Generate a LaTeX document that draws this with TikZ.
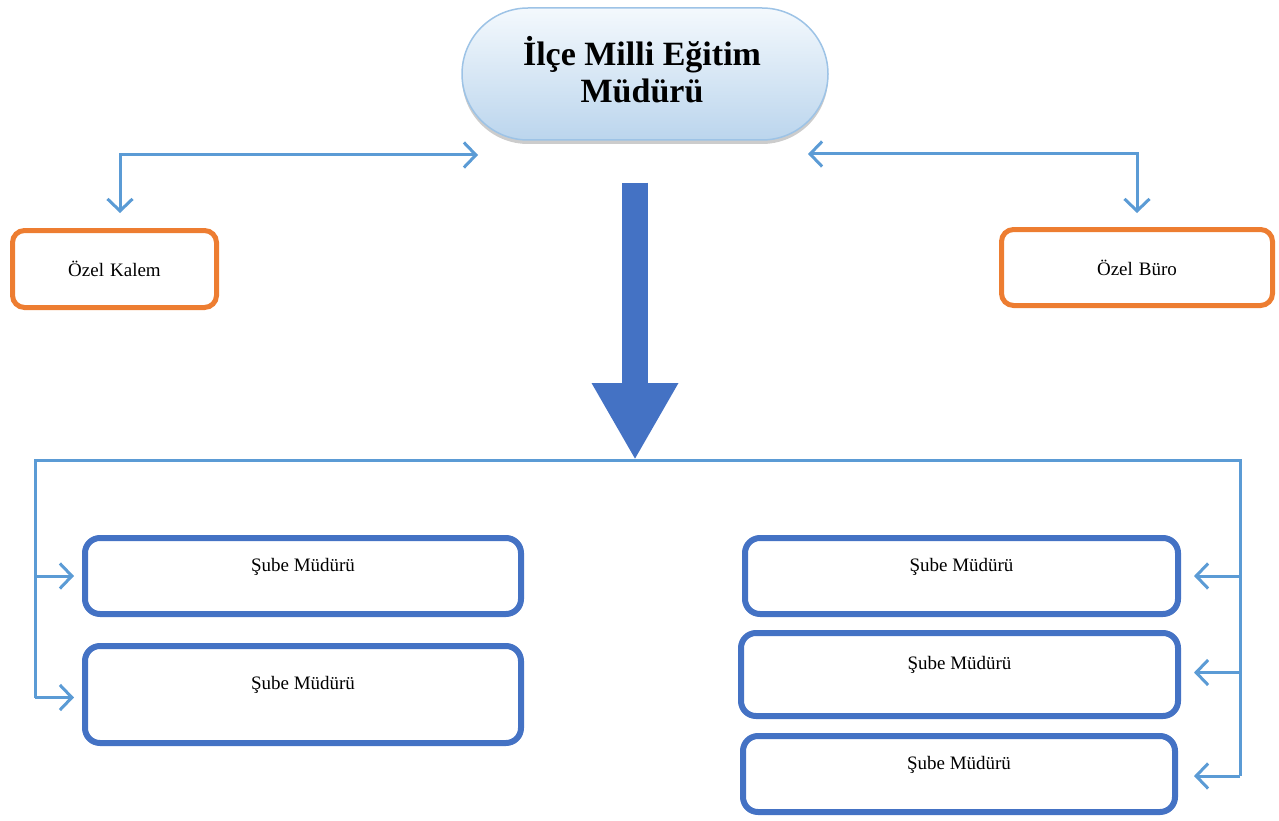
\documentclass[tikz,border=0pt]{standalone}
\usepackage{fontspec}
\setmainfont{Liberation Serif}
\usetikzlibrary{arrows.meta,shadows}
\definecolor{connblue}{HTML}{5B9BD5}
\definecolor{boxblue}{HTML}{4472C4}
\definecolor{orng}{HTML}{ED7D31}
\definecolor{pilltop}{HTML}{F4F9FD}
\definecolor{pillbot}{HTML}{BBD5ED}
\definecolor{pillline}{HTML}{9DC3E6}
\tikzset{barb/.tip={Straight Barb[length=12pt,width=25pt]}}
\begin{document}
\begin{tikzpicture}[x=1pt,y=-1pt,
  conn/.style={draw=connblue, line width=3pt},
  pillbox/.style={rectangle, rounded corners=66pt, minimum width=366pt, minimum height=132pt,
    top color=pilltop, bottom color=pillbot, draw=pillline, line width=1.5pt,
    drop shadow={shadow xshift=0pt, shadow yshift=-4pt, opacity=0.4, fill=gray},
    align=center, font=\fontsize{34}{37}\selectfont\bfseries},
  ozel/.style={rectangle, draw=orng, line width=5pt, rounded corners=12pt,
    font=\fontsize{19}{21}\selectfont},
  sube/.style={rectangle, draw=boxblue, line width=6pt, rounded corners=15pt,
    text height=12pt, text depth=22pt, font=\fontsize{19}{21}\selectfont},
  bigarrow/.style={draw=boxblue, line width=26pt, -{Triangle[length=77pt,width=81pt]}}
]
\useasboundingbox (0,0) rectangle (1279,821);

% top
\node[pillbox] (pill) at (645,74) {};
\node[align=center, font=\fontsize{34}{37}\selectfont\bfseries, inner sep=0pt] (title) at (642,70) {İlçe Milli Eğitim\\Müdürü};
\node[ozel, minimum width=204pt, minimum height=77pt] (kalem) at (114.5,269) {Özel\hspace{6pt}Kalem};
\node[ozel, minimum width=271pt, minimum height=76pt] (buro) at (1137,267.5) {Özel\hspace{6pt}Büro};

\coordinate (pl) at (478,155);
\coordinate (pr) at (808,154);
\draw[conn, {barb}-{barb}, shorten >=15pt] (pl) -| ([xshift=5.5pt]kalem.north);
\draw[conn, {barb}-{barb}, shorten >=14pt] (pr) -| (buro.north);

% branch boxes
\node[sube, minimum width=436pt, minimum height=76pt] (s1) at (303,576) {Şube Müdürü};
\node[sube, minimum width=436pt, minimum height=97pt] (s2) at (303,694.5) {Şube Müdürü};
\node[sube, minimum width=433pt, minimum height=76pt] (r1) at (961.5,576) {Şube Müdürü};
\node[sube, minimum width=437pt, minimum height=83pt] (r2) at (959.5,674.5) {Şube Müdürü};
\node[sube, minimum width=432pt, minimum height=76pt] (r3) at (959,774) {Şube Müdürü};

% bus
\coordinate (busL) at (35,460);
\coordinate (busR) at (1240,460);
\coordinate (busM) at (635,460);
\coordinate (bL1) at (busL |- s1.west);
\coordinate (bL2) at ([yshift=-3pt]busL |- s2.west);
\coordinate (bR1) at (busR |- r1.east);
\coordinate (bR2) at ([yshift=2pt]busR |- r2.east);
\coordinate (bR3) at ([yshift=-2pt]busR |- r3.east);

\draw[bigarrow] ([xshift=-10pt,yshift=-42pt]pill.south) -- (busM);
\draw[conn] (bL2) -- (busL) -- (busR) -- (bR3);
\draw[conn, -{barb}, shorten >=8pt] (bL1) -- (s1.west);
\draw[conn, -{barb}, shorten >=8pt] (bL2) -- (s2.west |- bL2);
\draw[conn, -{barb}, shorten >=13pt] (bR1) -- (r1.east);
\draw[conn, -{barb}, shorten >=13pt] (bR2) -- (r2.east |- bR2);
\draw[conn, -{barb}, shorten >=16pt] (bR3) -- (r3.east |- bR3);
\end{tikzpicture}
\end{document}
